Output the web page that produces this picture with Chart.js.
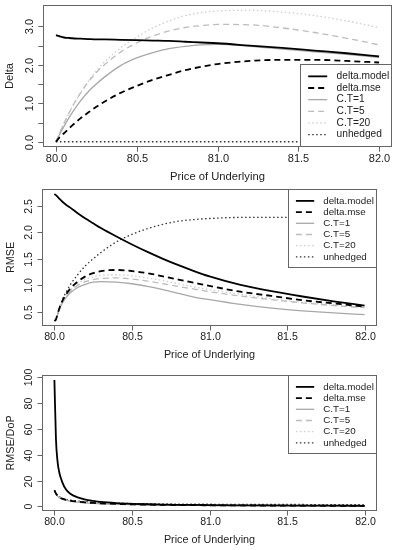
<!DOCTYPE html>
<html lang="en">
<head>
<meta charset="UTF-8">
<title>Delta and RMSE vs price of underlying</title>
<script src="https://cdn.jsdelivr.net/npm/chart.js"></script>
<style>
    body { margin: 0; background: #ffffff; }
    .panel { position: absolute; left: 0; }
</style>
</head>
<body>

<canvas id="deltaChart" class="panel" width="397" height="186" style="top:0px"></canvas>
<canvas id="rmseChart" class="panel" width="397" height="185" style="top:180px"></canvas>
<canvas id="ratioChart" class="panel" width="397" height="185" style="top:365px"></canvas>

<script>
    // Price grid shared by all panels
    const price = [80.0, 80.01, 80.02, 80.03, 80.05, 80.075, 80.1, 80.15, 80.2, 80.25, 80.3, 80.4,
                   80.5, 80.6, 80.7, 80.8, 80.9, 81.0, 81.2, 81.4, 81.6, 81.8, 82.0];
    const xTicks = [80.0, 80.5, 81.0, 81.5, 82.0];
    const seriesNames = ['delta.model', 'delta.mse', 'C.T=1', 'C.T=5', 'C.T=20', 'unhedged'];

    // Panel 1: Delta
    const deltaModel = [2.77, 2.76, 2.745, 2.73, 2.71, 2.70, 2.69, 2.68, 2.67, 2.66, 2.66, 2.65, 2.64, 2.63, 2.62, 2.60, 2.58, 2.56, 2.50, 2.44, 2.37, 2.30, 2.22];
    const deltaMse   = [0, 0.05, 0.10, 0.14, 0.22, 0.32, 0.42, 0.60, 0.76, 0.91, 1.04, 1.27, 1.45, 1.61, 1.74, 1.86, 1.95, 2.02, 2.10, 2.13, 2.13, 2.10, 2.06];
    const deltaCT1   = [0, 0.08, 0.17, 0.25, 0.40, 0.58, 0.75, 1.05, 1.30, 1.50, 1.68, 1.98, 2.18, 2.32, 2.42, 2.48, 2.52, 2.53, 2.48, 2.41, 2.34, 2.27, 2.19];
    const deltaCT5   = [0, 0.10, 0.20, 0.30, 0.48, 0.70, 0.90, 1.25, 1.55, 1.80, 2.00, 2.33, 2.57, 2.75, 2.88, 2.97, 3.02, 3.05, 3.04, 2.96, 2.84, 2.69, 2.52];
    const deltaCT20  = [0, 0.10, 0.20, 0.30, 0.48, 0.70, 0.90, 1.26, 1.57, 1.84, 2.07, 2.44, 2.72, 2.96, 3.14, 3.28, 3.36, 3.40, 3.42, 3.37, 3.28, 3.14, 2.97];
    const deltaUnhedged = [0, 0, 0, 0, 0, 0, 0, 0, 0, 0, 0, 0, 0, 0, 0, 0, 0, 0, 0, 0, 0, 0, 0];
    const deltaTicks = [0, 0.5, 1.0, 1.5, 2.0, 2.5, 3.0];
    const deltaLabels = [0, 1.0, 2.0, 3.0];

    // Panel 2: RMSE
    const rmseModel = [2.72, 2.70, 2.67, 2.64, 2.58, 2.52, 2.47, 2.36, 2.26, 2.17, 2.08, 1.92, 1.77, 1.63, 1.50, 1.38, 1.27, 1.17, 1.01, 0.89, 0.79, 0.70, 0.62];
    const rmseMse   = [0.33, 0.36, 0.46, 0.55, 0.70, 0.83, 0.93, 1.07, 1.17, 1.23, 1.27, 1.29, 1.27, 1.23, 1.17, 1.11, 1.05, 0.99, 0.88, 0.80, 0.72, 0.66, 0.60];
    const rmseCT1   = [0.33, 0.35, 0.44, 0.53, 0.66, 0.77, 0.85, 0.96, 1.02, 1.06, 1.07, 1.06, 1.03, 0.98, 0.92, 0.85, 0.78, 0.73, 0.64, 0.57, 0.52, 0.48, 0.45];
    const rmseCT5   = [0.33, 0.35, 0.45, 0.54, 0.68, 0.79, 0.88, 1.00, 1.07, 1.11, 1.13, 1.14, 1.12, 1.08, 1.03, 0.98, 0.93, 0.88, 0.80, 0.73, 0.67, 0.62, 0.58];
    const rmseCT20  = [0.33, 0.36, 0.46, 0.55, 0.69, 0.81, 0.90, 1.03, 1.11, 1.16, 1.19, 1.20, 1.18, 1.14, 1.09, 1.03, 0.97, 0.92, 0.83, 0.75, 0.68, 0.63, 0.58];
    const rmseUnhedged = [0.33, 0.35, 0.46, 0.55, 0.72, 0.87, 1.00, 1.20, 1.37, 1.50, 1.62, 1.82, 1.96, 2.07, 2.15, 2.21, 2.24, 2.26, 2.28, 2.28, 2.28, 2.28, 2.28];
    const rmseTicks = [0.5, 1.0, 1.5, 2.0, 2.5];

    // Panel 3: RMSE / DoP
    const ratioModel = [97.5, 52, 35, 27, 19, 13, 10, 7, 5.3, 4.3, 3.5, 2.6, 2.05, 1.7, 1.45, 1.28, 1.15, 1.05, 0.9, 0.78, 0.68, 0.6, 0.53];
    const ratioMse   = [12.5, 10, 8.3, 7.2, 6.0, 5.1, 4.5, 3.7, 3.1, 2.7, 2.4, 1.95, 1.65, 1.42, 1.25, 1.12, 1.02, 0.93, 0.8, 0.7, 0.62, 0.55, 0.5];
    const ratioCT1   = [12.3, 9.7, 8.0, 6.9, 5.7, 4.8, 4.2, 3.4, 2.8, 2.4, 2.1, 1.7, 1.4, 1.2, 1.05, 0.93, 0.84, 0.76, 0.65, 0.56, 0.5, 0.45, 0.4];
    const ratioCT5   = [12.4, 9.8, 8.1, 7.0, 5.8, 4.9, 4.3, 3.5, 2.9, 2.5, 2.2, 1.8, 1.5, 1.3, 1.14, 1.02, 0.92, 0.84, 0.72, 0.63, 0.56, 0.5, 0.46];
    const ratioCT20  = [12.4, 9.9, 8.2, 7.1, 5.9, 5.0, 4.4, 3.6, 3.0, 2.6, 2.3, 1.87, 1.57, 1.36, 1.2, 1.07, 0.97, 0.88, 0.76, 0.66, 0.59, 0.53, 0.48];
    const ratioUnhedged = [12.5, 10.2, 8.6, 7.6, 6.4, 5.5, 4.9, 4.2, 3.7, 3.3, 3.0, 2.6, 2.3, 2.1, 1.95, 1.85, 1.75, 1.7, 1.6, 1.55, 1.5, 1.45, 1.4];
    const ratioTicks = [0, 20, 40, 60, 80, 100];

    // line look for each series, same order as seriesNames
    const lineStyles = [
        { color: '#000000', width: 1.8, dash: [] },
        { color: '#000000', width: 1.8, dash: [6, 4] },
        { color: '#a8a8a8', width: 1.3, dash: [] },
        { color: '#bcbcbc', width: 1.3, dash: [6, 4] },
        { color: '#cdcdcd', width: 1.3, dash: [1.5, 2.5] },
        { color: '#333333', width: 1.3, dash: [1.5, 2.5] }
    ];

    const FONT = '"Liberation Sans", Arial, sans-serif';

    // R-style axes: box, outward ticks, rotated y labels, legend box
    const rAxes = {
        id: 'rAxes',
        afterDraw(chart, args, o) {
            const { ctx, chartArea: a, scales: { x, y } } = chart;
            const s = o.scale;
            const L = Math.round(a.left) + 0.5, R = Math.round(a.right) - 0.5;
            const T = Math.round(a.top) + 0.5, B = Math.round(a.bottom) - 0.5;
            ctx.save();
            ctx.strokeStyle = '#666666';
            ctx.lineWidth = 1;
            ctx.setLineDash([]);
            ctx.strokeRect(L, T, R - L, B - T);

            ctx.fillStyle = '#222222';
            ctx.textAlign = 'center';
            ctx.textBaseline = 'middle';
            ctx.font = (10.6 * s) + 'px ' + FONT;
            xTicks.forEach(v => {
                const px = Math.round(x.getPixelForValue(v)) + 0.5;
                ctx.beginPath(); ctx.moveTo(px, B); ctx.lineTo(px, B + 5 * s); ctx.stroke();
                ctx.fillText(v.toFixed(1), px, B + 12 * s);
            });
            o.yTicks.forEach(v => {
                const py = Math.round(y.getPixelForValue(v)) + 0.5;
                ctx.beginPath(); ctx.moveTo(L, py); ctx.lineTo(L - 5 * s, py); ctx.stroke();
                if (o.yLabels.includes(v)) {
                    ctx.save();
                    ctx.translate(L - 13 * s, py);
                    ctx.rotate(-Math.PI / 2);
                    ctx.fillText(o.fmt(v), 0, 0);
                    ctx.restore();
                }
            });

            // axis titles
            ctx.font = (10.8 * s) + 'px ' + FONT;
            ctx.fillText('Price of Underlying', (L + R) / 2, B + 29.5 * s);
            ctx.save();
            ctx.translate(o.yTitleX, (T + B) / 2);
            ctx.rotate(-Math.PI / 2);
            ctx.fillText(o.yTitle, 0, 0);
            ctx.restore();

            // legend
            const w = Math.round(87.7 * s), h = Math.round(78.4 * s);
            const lx = R - w;
            const ly = o.legendPos === 'bottomright' ? B - h : T;
            ctx.fillStyle = '#ffffff';
            ctx.fillRect(lx, ly, w, h);
            ctx.strokeRect(lx, ly, w, h);
            ctx.font = (9.8 * s) + 'px ' + FONT;
            ctx.textAlign = 'left';
            chart.data.datasets.forEach((ds, i) => {
                const yy = ly + (11.4 + 11.2 * i) * s;
                ctx.strokeStyle = ds.borderColor;
                ctx.lineWidth = ds.borderWidth;
                ctx.setLineDash(ds.borderDash);
                ctx.beginPath();
                ctx.moveTo(lx + 7.4 * s, yy);
                ctx.lineTo(lx + 25.7 * s, yy);
                ctx.stroke();
                ctx.fillStyle = '#222222';
                ctx.fillText(ds.label, lx + 34.7 * s, yy);
            });
            ctx.restore();
        }
    };

    function makePanel(id, seriesValues, yMin, yMax, pad, axisOpts) {
        const datasets = seriesValues.map((vals, i) => ({
            label: seriesNames[i],
            data: price.map((p, j) => ({ x: p, y: vals[j] })),
            borderColor: lineStyles[i].color,
            borderWidth: lineStyles[i].width,
            borderDash: lineStyles[i].dash,
            pointRadius: 0,
            fill: false,
            cubicInterpolationMode: 'monotone'
        }));
        return new Chart(document.getElementById(id), {
            type: 'line',
            data: { datasets: datasets },
            options: {
                responsive: false,
                animation: false,
                devicePixelRatio: 1,
                layout: { padding: pad },
                scales: {
                    x: { type: 'linear', min: 79.92, max: 82.08, display: false },
                    y: { type: 'linear', min: yMin, max: yMax, display: false }
                },
                plugins: {
                    legend: { display: false },
                    tooltip: { enabled: false },
                    rAxes: axisOpts
                }
            },
            plugins: [rAxes]
        });
    }

    makePanel('deltaChart',
        [deltaModel, deltaMse, deltaCT1, deltaCT5, deltaCT20, deltaUnhedged],
        -0.137, 3.555,
        { left: 43, top: 5, right: 5, bottom: 39 },
        { scale: 1.04, yTicks: deltaTicks, yLabels: deltaLabels, fmt: v => v.toFixed(1),
          yTitle: 'Delta', yTitleX: 10, legendPos: 'bottomright' });

    makePanel('rmseChart',
        [rmseModel, rmseMse, rmseCT1, rmseCT5, rmseCT20, rmseUnhedged],
        0.234, 2.816,
        { left: 42, top: 9, right: 20, bottom: 39 },
        { scale: 1, yTicks: rmseTicks, yLabels: rmseTicks, fmt: v => v.toFixed(1),
          yTitle: 'RMSE', yTitleX: 11, legendPos: 'topright' });

    makePanel('ratioChart',
        [ratioModel, ratioMse, ratioCT1, ratioCT5, ratioCT20, ratioUnhedged],
        -3.5, 101.4,
        { left: 42, top: 10, right: 20, bottom: 39 },
        { scale: 1, yTicks: ratioTicks, yLabels: ratioTicks, fmt: v => String(v),
          yTitle: 'RMSE/DoP', yTitleX: 11, legendPos: 'topright' });
</script>

</body>
</html>
